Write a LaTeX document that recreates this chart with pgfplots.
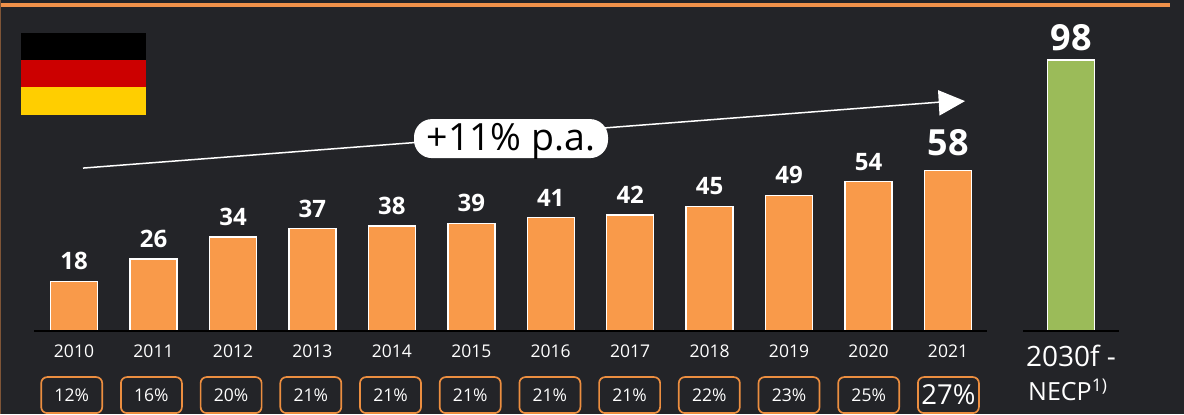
\documentclass[border=0pt]{standalone}
\usepackage{pgfplots}
\pgfplotsset{compat=1.18}
\usepackage{fontspec}
\setmainfont{Open Sans}
\definecolor{bg}{HTML}{232428}
\definecolor{org}{HTML}{F99A4A}
\definecolor{line}{HTML}{F0914A}
\definecolor{boxc}{HTML}{EC8E40}
\definecolor{grn}{HTML}{9BBB59}
\definecolor{fl}{HTML}{CC0000}
\definecolor{fy}{HTML}{FFCE00}
\newcommand{\fs}[1]{\fontsize{#1}{#1}\selectfont}
\begin{document}
\begin{tikzpicture}[x=1pt,y=1pt]
\fill[bg] (0,0) rectangle (1184,414);
\begin{scope}[shift={(0,414)},y=-1pt]
\fill[line] (0,3) rectangle (1170,7);
\fill[line!45!bg] (0,0) rectangle (1.2,414);
\fill[black] (21,33) rectangle (146,60);
\fill[fl] (21,60) rectangle (146,87);
\fill[fy] (21,87) rectangle (146,114.5);
\end{scope}
\begin{axis}[
  at={(0pt,83pt)},anchor=south west,
  width=1184pt,height=331pt,scale only axis,
  xmin=0,xmax=1184,ymin=0,ymax=119.7,
  clip=false,
  axis line style={draw=none},
  ytick=\empty,
  xtick={74,153.5,233,312.4,391.8,471.3,550.7,630.2,709.6,789,868.5,948},
  xticklabels={2010,2011,2012,2013,2014,2015,2016,2017,2018,2019,2020,2021},
  major tick length=0pt,
  xticklabel style={text=white,font=\fs{17.5},anchor=center,yshift=-20pt,text height=12pt,text depth=0pt,inner sep=0pt},
  ybar,bar width=47pt,bar shift=0pt,
  nodes near coords,
  point meta=explicit symbolic,
]
\addplot[draw=white,line width=1.4pt,fill=org,
  nodes near coords style={text=white,font=\bfseries\fs{24},anchor=south,yshift=7.5pt}]
  coordinates {(74,18)[18] (153.5,26)[26] (233,34)[34] (312.4,37)[37] (391.8,38)[38] (471.3,39)[39] (550.7,41)[41] (630.2,42)[42] (709.6,45)[45] (789,49)[49] (868.5,54)[54]};
\addplot[draw=white,line width=1.4pt,fill=org,
  nodes near coords style={text=white,font=\bfseries\fs{36},anchor=south,yshift=11pt}]
  coordinates {(948,58)[58]};
\addplot[draw=white,line width=1.4pt,fill=grn,
  nodes near coords style={text=white,font=\bfseries\fs{36},anchor=south,yshift=5pt}]
  coordinates {(1071,98)[98]};
\end{axis}
\begin{scope}[shift={(0,414)},y=-1pt]
\draw[black,line width=1.2pt] (34,331) -- (987,331);
\draw[black,line width=1.2pt] (1023,331) -- (1119,331);
\draw[white,line width=1.5pt] (83,168) -- (940,102);
\fill[white] (938,90) -- (965,101) -- (939.5,115.5) -- cycle;
\node[fill=white,rounded corners=18pt,minimum width=194pt,minimum height=39pt,inner sep=0pt] at (511,138.5) {};
\node[inner sep=0pt,text=black,font=\fs{37.5}] at (511,141) {+11\% p.a.};
\foreach \x/\t in {71.7/12,151.4/16,231.1/20,310.8/21,390.5/21,470.2/21,549.9/21,629.6/21,709.3/22,789/23,868.7/25}{
  \node[draw=boxc,line width=1.7pt,rounded corners=6pt,minimum width=61pt,minimum height=36pt,inner sep=0pt,text=white,font=\fs{17.5}] at (\x,395) {\t\%};
}
\node[draw=boxc,line width=1.7pt,rounded corners=6pt,minimum width=61pt,minimum height=36pt,inner sep=0pt,text=white,font=\fs{27.5}] at (948.4,395) {27\%};
\node[text=white,font=\fs{28},inner sep=0pt] at (1071,356) {2030f -};
\node[text=white,font=\fs{25},inner sep=0pt,anchor=west] at (1028,390) {NECP\textsuperscript{1)}};
\end{scope}
\end{tikzpicture}
\end{document}
